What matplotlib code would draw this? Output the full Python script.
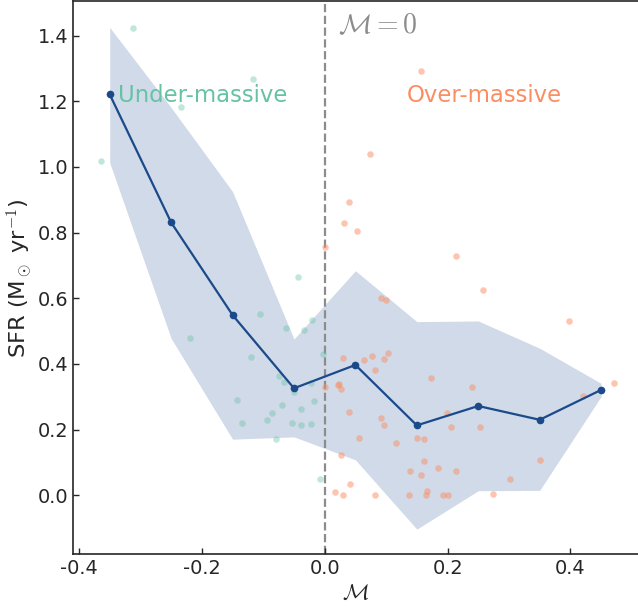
import matplotlib
matplotlib.use("Agg")
import matplotlib.pyplot as plt
import numpy as np

# binned median line and band
bin_x = [-0.35, -0.25, -0.15, -0.05, 0.05, 0.15, 0.25, 0.35, 0.45]
bin_med = [1.221, 0.831, 0.549, 0.326, 0.397, 0.213, 0.272, 0.230, 0.321]
bin_hi = [1.425, 1.181, 0.925, 0.476, 0.684, 0.529, 0.531, 0.448, 0.341]
bin_lo = [1.013, 0.478, 0.171, 0.178, 0.108, -0.103, 0.014, 0.015, 0.301]

# under-massive galaxies (M < 0)
under_x = [-0.312, -0.365, -0.117, -0.234, -0.044, -0.220, -0.105, -0.063, -0.034,
           -0.021, -0.120, -0.002, -0.074, -0.067, -0.050, -0.022, -0.142, -0.017,
           -0.070, -0.039, -0.086, -0.094, -0.135, -0.054, -0.038, -0.022, -0.079,
           -0.007]
under_y = [1.423, 1.019, 1.267, 1.183, 0.666, 0.478, 0.553, 0.511, 0.504,
           0.534, 0.421, 0.430, 0.362, 0.346, 0.314, 0.343, 0.290, 0.287,
           0.274, 0.262, 0.251, 0.229, 0.220, 0.221, 0.213, 0.217, 0.172,
           0.050]

# over-massive galaxies (M > 0)
over_x = [0.156, 0.074, 0.039, 0.032, 0.052, 0.001, 0.213, 0.091, 0.100, 0.258,
          0.397, 0.471, 0.421, 0.030, 0.064, 0.077, 0.097, 0.103, 0.082, 0.173,
          0.001, 0.022, 0.023, 0.027, 0.239, 0.039, 0.091, 0.097, 0.199, 0.205,
          0.253, 0.056, 0.116, 0.150, 0.162, 0.027, 0.161, 0.184, 0.213, 0.139,
          0.157, 0.350, 0.301, 0.041, 0.017, 0.029, 0.082, 0.137, 0.166, 0.165,
          0.193, 0.200, 0.274]
over_y = [1.292, 1.039, 0.892, 0.829, 0.806, 0.757, 0.730, 0.601, 0.596, 0.626,
          0.532, 0.341, 0.303, 0.418, 0.413, 0.424, 0.415, 0.432, 0.383, 0.357,
          0.329, 0.335, 0.340, 0.324, 0.330, 0.253, 0.235, 0.213, 0.250, 0.207,
          0.208, 0.175, 0.160, 0.174, 0.173, 0.123, 0.106, 0.083, 0.075, 0.074,
          0.062, 0.109, 0.050, 0.035, 0.009, 0.001, 0.001, 0.001, 0.014, 0.001,
          0.000, 0.000, 0.004]

green = "#66c2a5"
orange = "#fc8d62"
navy = "#1b4a8a"
txt = "#262626"

plt.rcParams["font.family"] = ["DejaVu Sans"]
plt.rcParams["mathtext.fontset"] = "cm"

fig = plt.figure(figsize=(6.38, 6.06), dpi=100)
ax = fig.add_axes([0.1149, 0.0853, 0.8860, 0.9126])

ax.fill_between(bin_x, bin_lo, bin_hi, color="#2b5797", alpha=0.22, lw=0, zorder=1)
ax.scatter(under_x, under_y, s=22, color=green, alpha=0.4, lw=0, zorder=2)
ax.scatter(over_x, over_y, s=22, color=orange, alpha=0.5, lw=0, zorder=2)
ax.plot(bin_x, bin_med, color=navy, lw=1.6, marker="o", ms=4.5, zorder=3)
ax.axvline(0, color="#8c8c8c", ls="--", lw=1.6, zorder=1.5)

ax.text(-0.336, 1.219, "Under-massive", color=green, fontsize=16.4, va="center", ha="left")
ax.text(0.133, 1.219, "Over-massive", color=orange, fontsize=16.4, va="center", ha="left")
ax.text(0.022, 1.432, r"$\mathcal{M}=0$", color="#8c8c8c", fontsize=20, va="center", ha="left")

ax.set_xlim(-0.4093, 0.511)
ax.set_ylim(-0.1797, 1.5047)
ax.set_xticks([-0.4, -0.2, 0.0, 0.2, 0.4])
ax.set_yticks([0.0, 0.2, 0.4, 0.6, 0.8, 1.0, 1.2, 1.4])
ax.xaxis.set_major_formatter(matplotlib.ticker.FormatStrFormatter("%.1f"))
ax.yaxis.set_major_formatter(matplotlib.ticker.FormatStrFormatter("%.1f"))
ax.tick_params(direction="in", labelsize=13.9, colors=txt, length=4, width=1)
for s in ax.spines.values():
    s.set_color(txt)
    s.set_linewidth(1.2)
ax.set_xlabel(r"$\mathcal{M}$", fontsize=16, color=txt, labelpad=4)
ax.set_ylabel(r"SFR (M$_\odot$ yr$^{-1}$)", fontsize=16.2, color=txt, labelpad=2)

fig.savefig("out.png", dpi=100)
